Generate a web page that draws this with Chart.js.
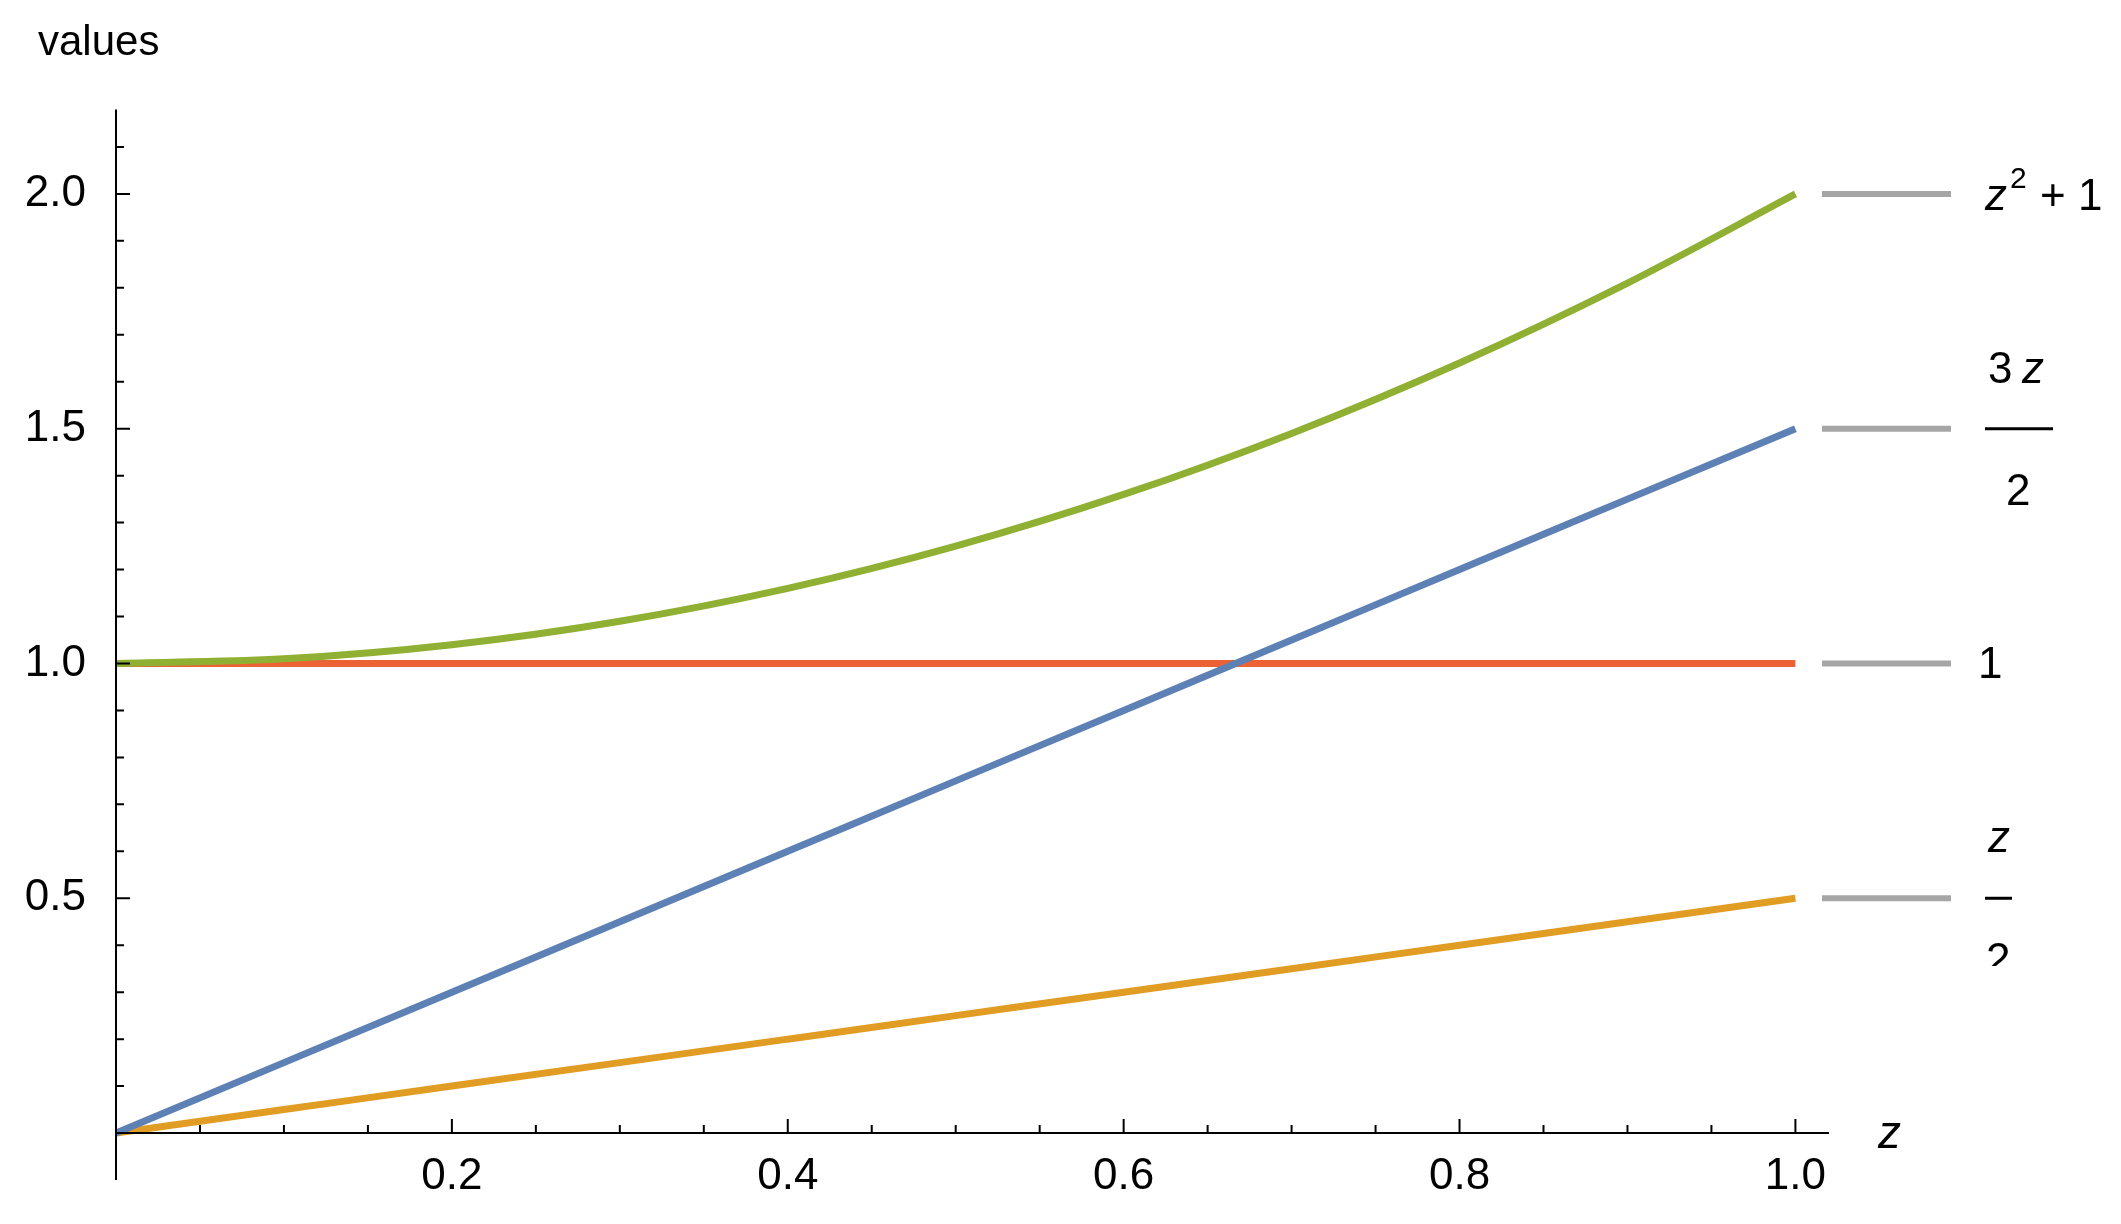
<!DOCTYPE html>
<html>
<head>
<meta charset="utf-8">
<script src="https://cdn.jsdelivr.net/npm/chart.js@4/dist/chart.umd.min.js"></script>
<style>
  body { margin: 0; background: #fff; }
  #wrap { width: 2121px; height: 1224px; }
</style>
</head>
<body>
<div id="wrap"><canvas id="chart"></canvas></div>
<script>
const zValues = [0, 0.1, 0.2, 0.3, 0.4, 0.5, 0.6, 0.7, 0.8, 0.9, 1.0];
const halfZ = [0, 0.05, 0.1, 0.15, 0.2, 0.25, 0.3, 0.35, 0.4, 0.45, 0.5];
const threeHalfZ = [0, 0.15, 0.3, 0.45, 0.6, 0.75, 0.9, 1.05, 1.2, 1.35, 1.5];
const one = [1, 1, 1, 1, 1, 1, 1, 1, 1, 1, 1];
const zSqPlusOne = [1, 1.01, 1.04, 1.09, 1.16, 1.25, 1.36, 1.49, 1.64, 1.81, 2.0];
const xTickLabels = [0.2, 0.4, 0.6, 0.8, 1.0];
const yTickLabels = [0.5, 1.0, 1.5, 2.0];

const FONT = '"Liberation Sans", Arial, sans-serif';

function series(vals) {
    return zValues.map((z, i) => ({ x: z, y: vals[i] }));
}

const axesPlugin = {
    id: 'axes',
    afterDraw(chart) {
        const { ctx, scales: { x, y } } = chart;
        const x0 = x.getPixelForValue(0), y0 = y.getPixelForValue(0);
        ctx.save();
        ctx.strokeStyle = '#000';
        ctx.lineWidth = 2;
        ctx.beginPath();
        ctx.moveTo(x.getPixelForValue(0), y0);
        ctx.lineTo(x.getPixelForValue(1.02), y0);
        ctx.moveTo(x0, y.getPixelForValue(-0.1));
        ctx.lineTo(x0, y.getPixelForValue(2.18));
        // x ticks
        for (let i = 1; i <= 20; i++) {
            const px = x.getPixelForValue(i * 0.05);
            const len = i % 4 === 0 ? 14 : 8;
            ctx.moveTo(px, y0);
            ctx.lineTo(px, y0 - len);
        }
        // y ticks
        for (let i = 1; i <= 21; i++) {
            const py = y.getPixelForValue(i * 0.1);
            const len = i % 5 === 0 ? 14 : 8;
            ctx.moveTo(x0, py);
            ctx.lineTo(x0 + len, py);
        }
        ctx.stroke();

        ctx.fillStyle = '#000';
        ctx.font = '44px ' + FONT;
        ctx.textAlign = 'center';
        ctx.textBaseline = 'top';
        xTickLabels.forEach(v => ctx.fillText(v.toFixed(1), x.getPixelForValue(v), y0 + 22));
        ctx.textAlign = 'right';
        ctx.textBaseline = 'middle';
        yTickLabels.forEach(v => ctx.fillText(v.toFixed(1), x0 - 30, y.getPixelForValue(v)));

        ctx.textAlign = 'left';
        ctx.font = '42px ' + FONT;
        ctx.fillText('values', 38, 43);
        ctx.font = 'italic 46px ' + FONT;
        ctx.fillText('z', 1878, y0 + 2);

        // legend
        ctx.strokeStyle = '#a6a6a6';
        ctx.lineWidth = 6;
        [2, 1.5, 1, 0.5].forEach(v => {
            const py = y.getPixelForValue(v);
            ctx.beginPath();
            ctx.moveTo(1822, py);
            ctx.lineTo(1951, py);
            ctx.stroke();
        });
        ctx.fillStyle = '#000';
        ctx.font = '44px ' + FONT;
        let py = y.getPixelForValue(2);
        ctx.font = 'italic 44px ' + FONT;
        ctx.fillText('z', 1985, py + 4);
        ctx.font = '30px ' + FONT;
        ctx.fillText('2', 2010, py - 14);
        ctx.font = '44px ' + FONT;
        ctx.fillText('+ 1', 2040, py + 4);
        ctx.fillText('1', 1978, y.getPixelForValue(1) + 2);

        ctx.lineWidth = 3;
        ctx.strokeStyle = '#000';
        py = y.getPixelForValue(1.5);
        ctx.fillText('3', 1988, py - 58);
        ctx.font = 'italic 44px ' + FONT;
        ctx.fillText('z', 2022, py - 58);
        ctx.font = '44px ' + FONT;
        ctx.beginPath(); ctx.moveTo(1985, py); ctx.lineTo(2053, py); ctx.stroke();
        ctx.fillText('2', 2006, py + 64);

        py = y.getPixelForValue(0.5);
        ctx.font = 'italic 44px ' + FONT;
        ctx.fillText('z', 1988, py - 58);
        ctx.font = '44px ' + FONT;
        ctx.beginPath(); ctx.moveTo(1985, py); ctx.lineTo(2012, py); ctx.stroke();
        ctx.save();
        ctx.beginPath(); ctx.rect(1960, py, 120, 310 - 0); ctx.rect(1960, py, 120, 966 - py); ctx.clip();
        ctx.beginPath(); ctx.rect(1960, py, 120, 966 - py); ctx.clip();
        ctx.fillText('2', 1986, py + 64);
        ctx.restore();
        ctx.restore();
    }
};

function ds(data, color) {
    return {
        data: series(data),
        borderColor: color,
        borderWidth: 7,
        pointRadius: 0,
        fill: false,
        cubicInterpolationMode: 'monotone'
    };
}

new Chart(document.getElementById('chart').getContext('2d'), {
    type: 'line',
    data: {
        datasets: [
            ds(zSqPlusOne, '#8fb032'),
            ds(threeHalfZ, '#5e81b5'),
            ds(halfZ, '#e19c24'),
            ds(one, '#eb6235')
        ]
    },
    options: {
        responsive: true,
        maintainAspectRatio: false,
        animation: false,
        layout: { padding: { left: 116, right: 292, top: 100, bottom: 44 } },
        scales: {
            x: { type: 'linear', min: 0, max: 1.02, display: false },
            y: { type: 'linear', min: -0.1, max: 2.2, display: false }
        },
        plugins: { legend: { display: false }, tooltip: { enabled: false } }
    },
    plugins: [axesPlugin]
});
</script>
</body>
</html>
